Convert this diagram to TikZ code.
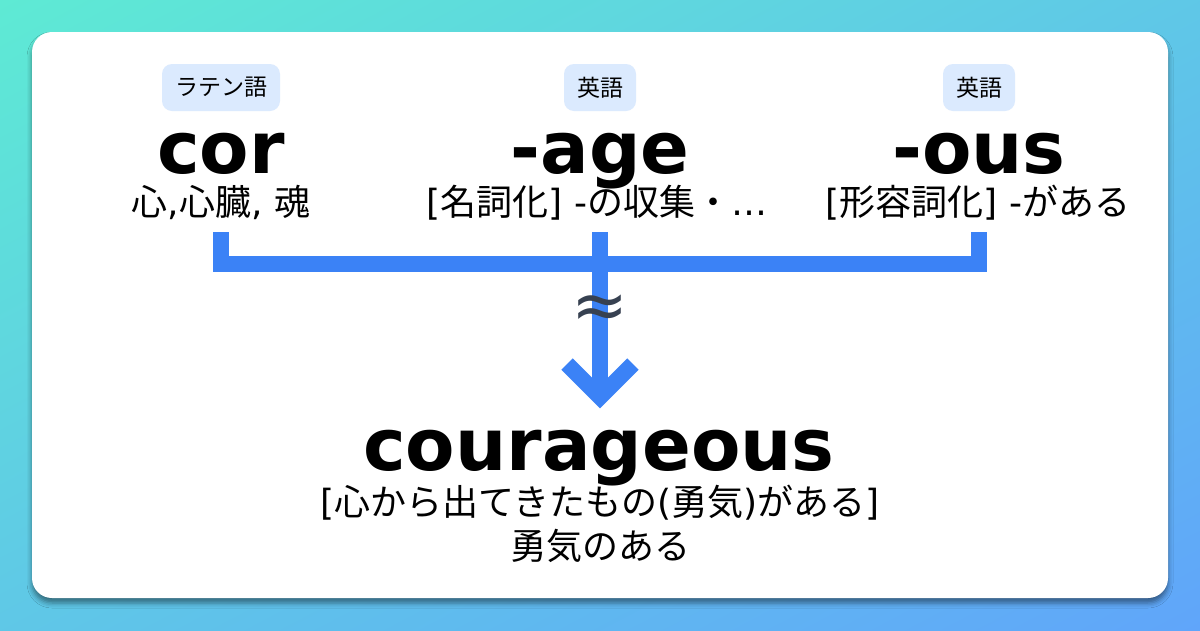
\documentclass[tikz,border=0pt]{standalone}
\usepackage{fontspec}
\setmainfont{DejaVu Sans}
\newfontfamily\jp{Noto Sans CJK JP}
\usetikzlibrary{shadings, shadows.blur}

\definecolor{bgteal}{HTML}{5EEAD4}
\definecolor{bgblue}{HTML}{60A5FA}
\colorlet{bgmid}{bgteal!50!bgblue}
\definecolor{barblue}{HTML}{3B82F6}
\definecolor{tagfill}{HTML}{DBEAFE}
\definecolor{approxgray}{HTML}{374151}

\tikzset{
  tagbox/.style={fill=tagfill, rounded corners=10pt, minimum height=47pt,
    inner xsep=13pt, inner ysep=0pt, font=\jp\fontsize{23}{27}\selectfont},
  word/.style={anchor=base, inner sep=0pt, font=\bfseries\fontsize{72}{80}\selectfont},
  meaning/.style={anchor=base, inner sep=0pt, font=\fontsize{36}{40}\selectfont},
  bar/.style={draw=barblue, line width=16pt, line join=miter},
}

\begin{document}
\begin{tikzpicture}[x=1pt, y=-1pt]
    \useasboundingbox (0,0) rectangle (1200,630);

    % Background and card
    \shade[upper left=bgteal, lower right=bgblue, upper right=bgmid, lower left=bgmid]
        (0,0) rectangle (1200,630);
    \path[fill=white, rounded corners=20pt,
        blur shadow={shadow xshift=0pt, shadow yshift=-5pt, shadow blur radius=5pt, shadow opacity=45}]
        (32,32) rectangle (1168,598);

    % Parts: tag and word
    \foreach \nm/\x/\lang/\word in {cor/221/{ラテン語}/{cor}, age/600/{英語}/{-age}, ous/979/{英語}/{-ous}} {
        \node[tagbox] (tag\nm) at (\x,87.5) {\lang};
        \node[word] (\nm) at (\x,173) {\word};
    }

    % Meanings
    \node[meaning] (mcor) at (221,215) {{\jp 心},{\jp 心臓}, {\jp 魂}};
    \node[meaning] (mage) at (597,215) {[{\jp 名詞化}] -{\jp の収集・}…};
    \node[meaning] (mous) at (978,215) {[{\jp 形容詞化}] -{\jp がある}};

    % Bracket joining the parts
    \coordinate (jcor) at (221,232);
    \coordinate (jage) at (600,232);
    \coordinate (jous) at (979,232);
    \coordinate (tip) at (600,397);
    \draw[bar] (jcor) -- ++(0,31.5) -| (jous);
    \draw[bar] (jage) -- (tip);
    \draw[bar] (tip) +(-33,-33) -- (tip) -- +(33,-33);
    \node[text=approxgray, font=\fontsize{68}{68}\selectfont] (approx) at (600,312) {≈};

    % Result
    \node[word] (res) at (599,470) {courageous};
    \node[meaning] (rmean1) at (600,515) {[{\jp 心から出てきたもの}({\jp 勇気}){\jp がある}]};
    \node[meaning] (rmean2) at (600,559) {{\jp 勇気のある}};
\end{tikzpicture}
\end{document}
